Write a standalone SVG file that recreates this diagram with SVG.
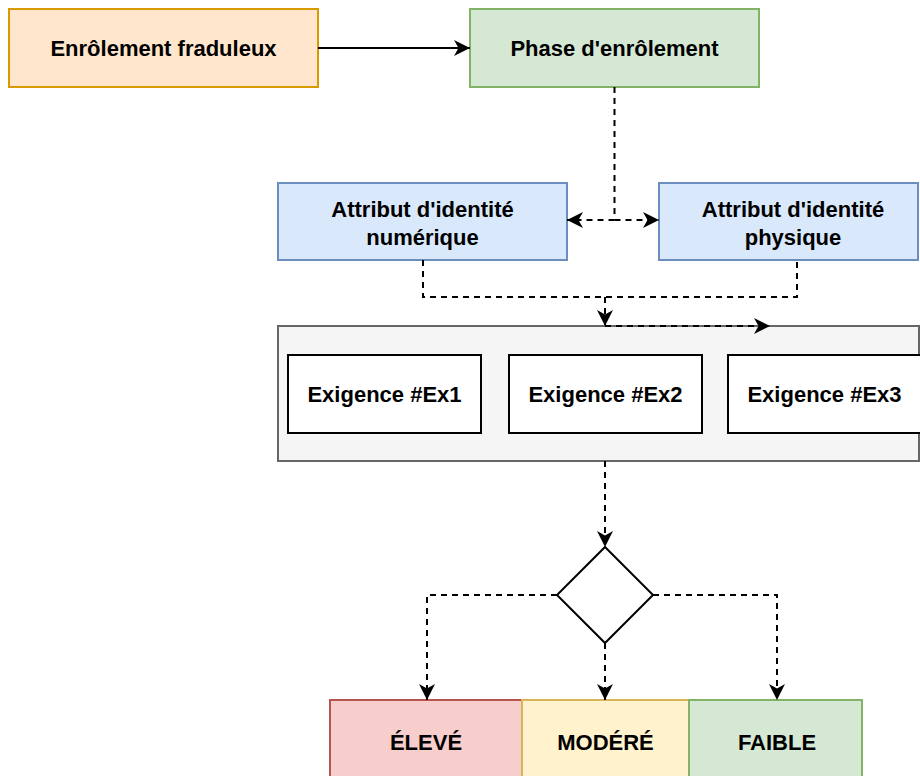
<svg xmlns="http://www.w3.org/2000/svg" width="920" height="776" viewBox="0 0 920 776">
<style>
text{font-family:"Liberation Sans",Arial,Helvetica,sans-serif;font-weight:bold;font-size:22px;fill:#000;text-anchor:middle;dominant-baseline:central}
.orange{fill:#ffe6cc;stroke:#d79b00;stroke-width:2}
.green{fill:#d5e8d4;stroke:#82b366;stroke-width:2}
.blue{fill:#dae8fc;stroke:#6c8ebf;stroke-width:2}
.grey{fill:#f5f5f5;stroke:#666666;stroke-width:2}
.white{fill:#fff;stroke:#000;stroke-width:2}
.red{fill:#f8cecc;stroke:#b85450;stroke-width:2}
.yellow{fill:#fff2cc;stroke:#d6b656;stroke-width:2}
.e{fill:none;stroke:#000;stroke-width:2}
.d{stroke-dasharray:6 5}
.a{marker-end:url(#arr)}
</style>
<defs>
<marker id="arr" markerUnits="userSpaceOnUse" markerWidth="17" markerHeight="16" refX="16" refY="8" orient="auto">
<path d="M0,0 L16,8 L0,16 L4.5,8 Z" fill="#000"/>
</marker>
</defs>
<g id="n-fraud"><rect class="orange" x="9" y="9" width="309" height="78"/><text x="163.5" y="48">Enrôlement fraduleux</text></g>
<g id="n-phase"><rect class="green" x="470" y="9" width="289" height="78"/><text x="614.5" y="48">Phase d'enrôlement</text></g>
<g id="n-num"><rect class="blue" x="278" y="183" width="289" height="77"/><text x="422.5" y="209">Attribut d'identité</text><text x="422.5" y="237">numérique</text></g>
<g id="n-phys"><rect class="blue" x="659" y="183" width="259" height="77"/><text x="793" y="209">Attribut d'identité</text><text x="793" y="237">physique</text></g>
<g id="n-container"><rect class="grey" x="278" y="326" width="641" height="135"/></g>
<g id="n-ex1"><rect class="white" x="288" y="355" width="193" height="78"/><text x="384.5" y="394">Exigence #Ex1</text></g>
<g id="n-ex2"><rect class="white" x="509" y="355" width="193" height="78"/><text x="605.5" y="394">Exigence #Ex2</text></g>
<g id="n-ex3"><rect class="white" x="728" y="355" width="193" height="78"/><text x="824.5" y="394">Exigence #Ex3</text></g>
<g id="n-decision"><path class="white" d="M605,547 L653,595 L605,643 L557,595 Z"/></g>
<g id="n-eleve"><rect class="red" x="330" y="700" width="192" height="80"/><text x="426" y="742">ÉLEVÉ</text></g>
<g id="n-modere"><rect class="yellow" x="522" y="700" width="167" height="80"/><text x="605.5" y="742">MODÉRÉ</text></g>
<g id="n-faible"><rect class="green" x="689" y="700" width="173" height="80"/><text x="777" y="742">FAIBLE</text></g>
<g id="connectors">
<path class="e a" d="M318,48 L470,48"/>
<path class="e d" d="M614.5,87 L614.5,220"/>
<path class="e d a" d="M614.5,220 L567,220"/>
<path class="e d a" d="M614.5,220 L659,220"/>
<path class="e d" d="M423,260 L423,297 L797,297 L797,260"/>
<path class="e d a" d="M605,297 L605,326"/>
<path class="e d a" d="M605,326 L770,326"/>
<path class="e d a" d="M605,461 L605,547"/>
<path class="e d a" d="M557,595 L427,595 L427,700"/>
<path class="e d a" d="M605,643 L605,700"/>
<path class="e d a" d="M653,595 L777,595 L777,700"/>
</g>
</svg>
